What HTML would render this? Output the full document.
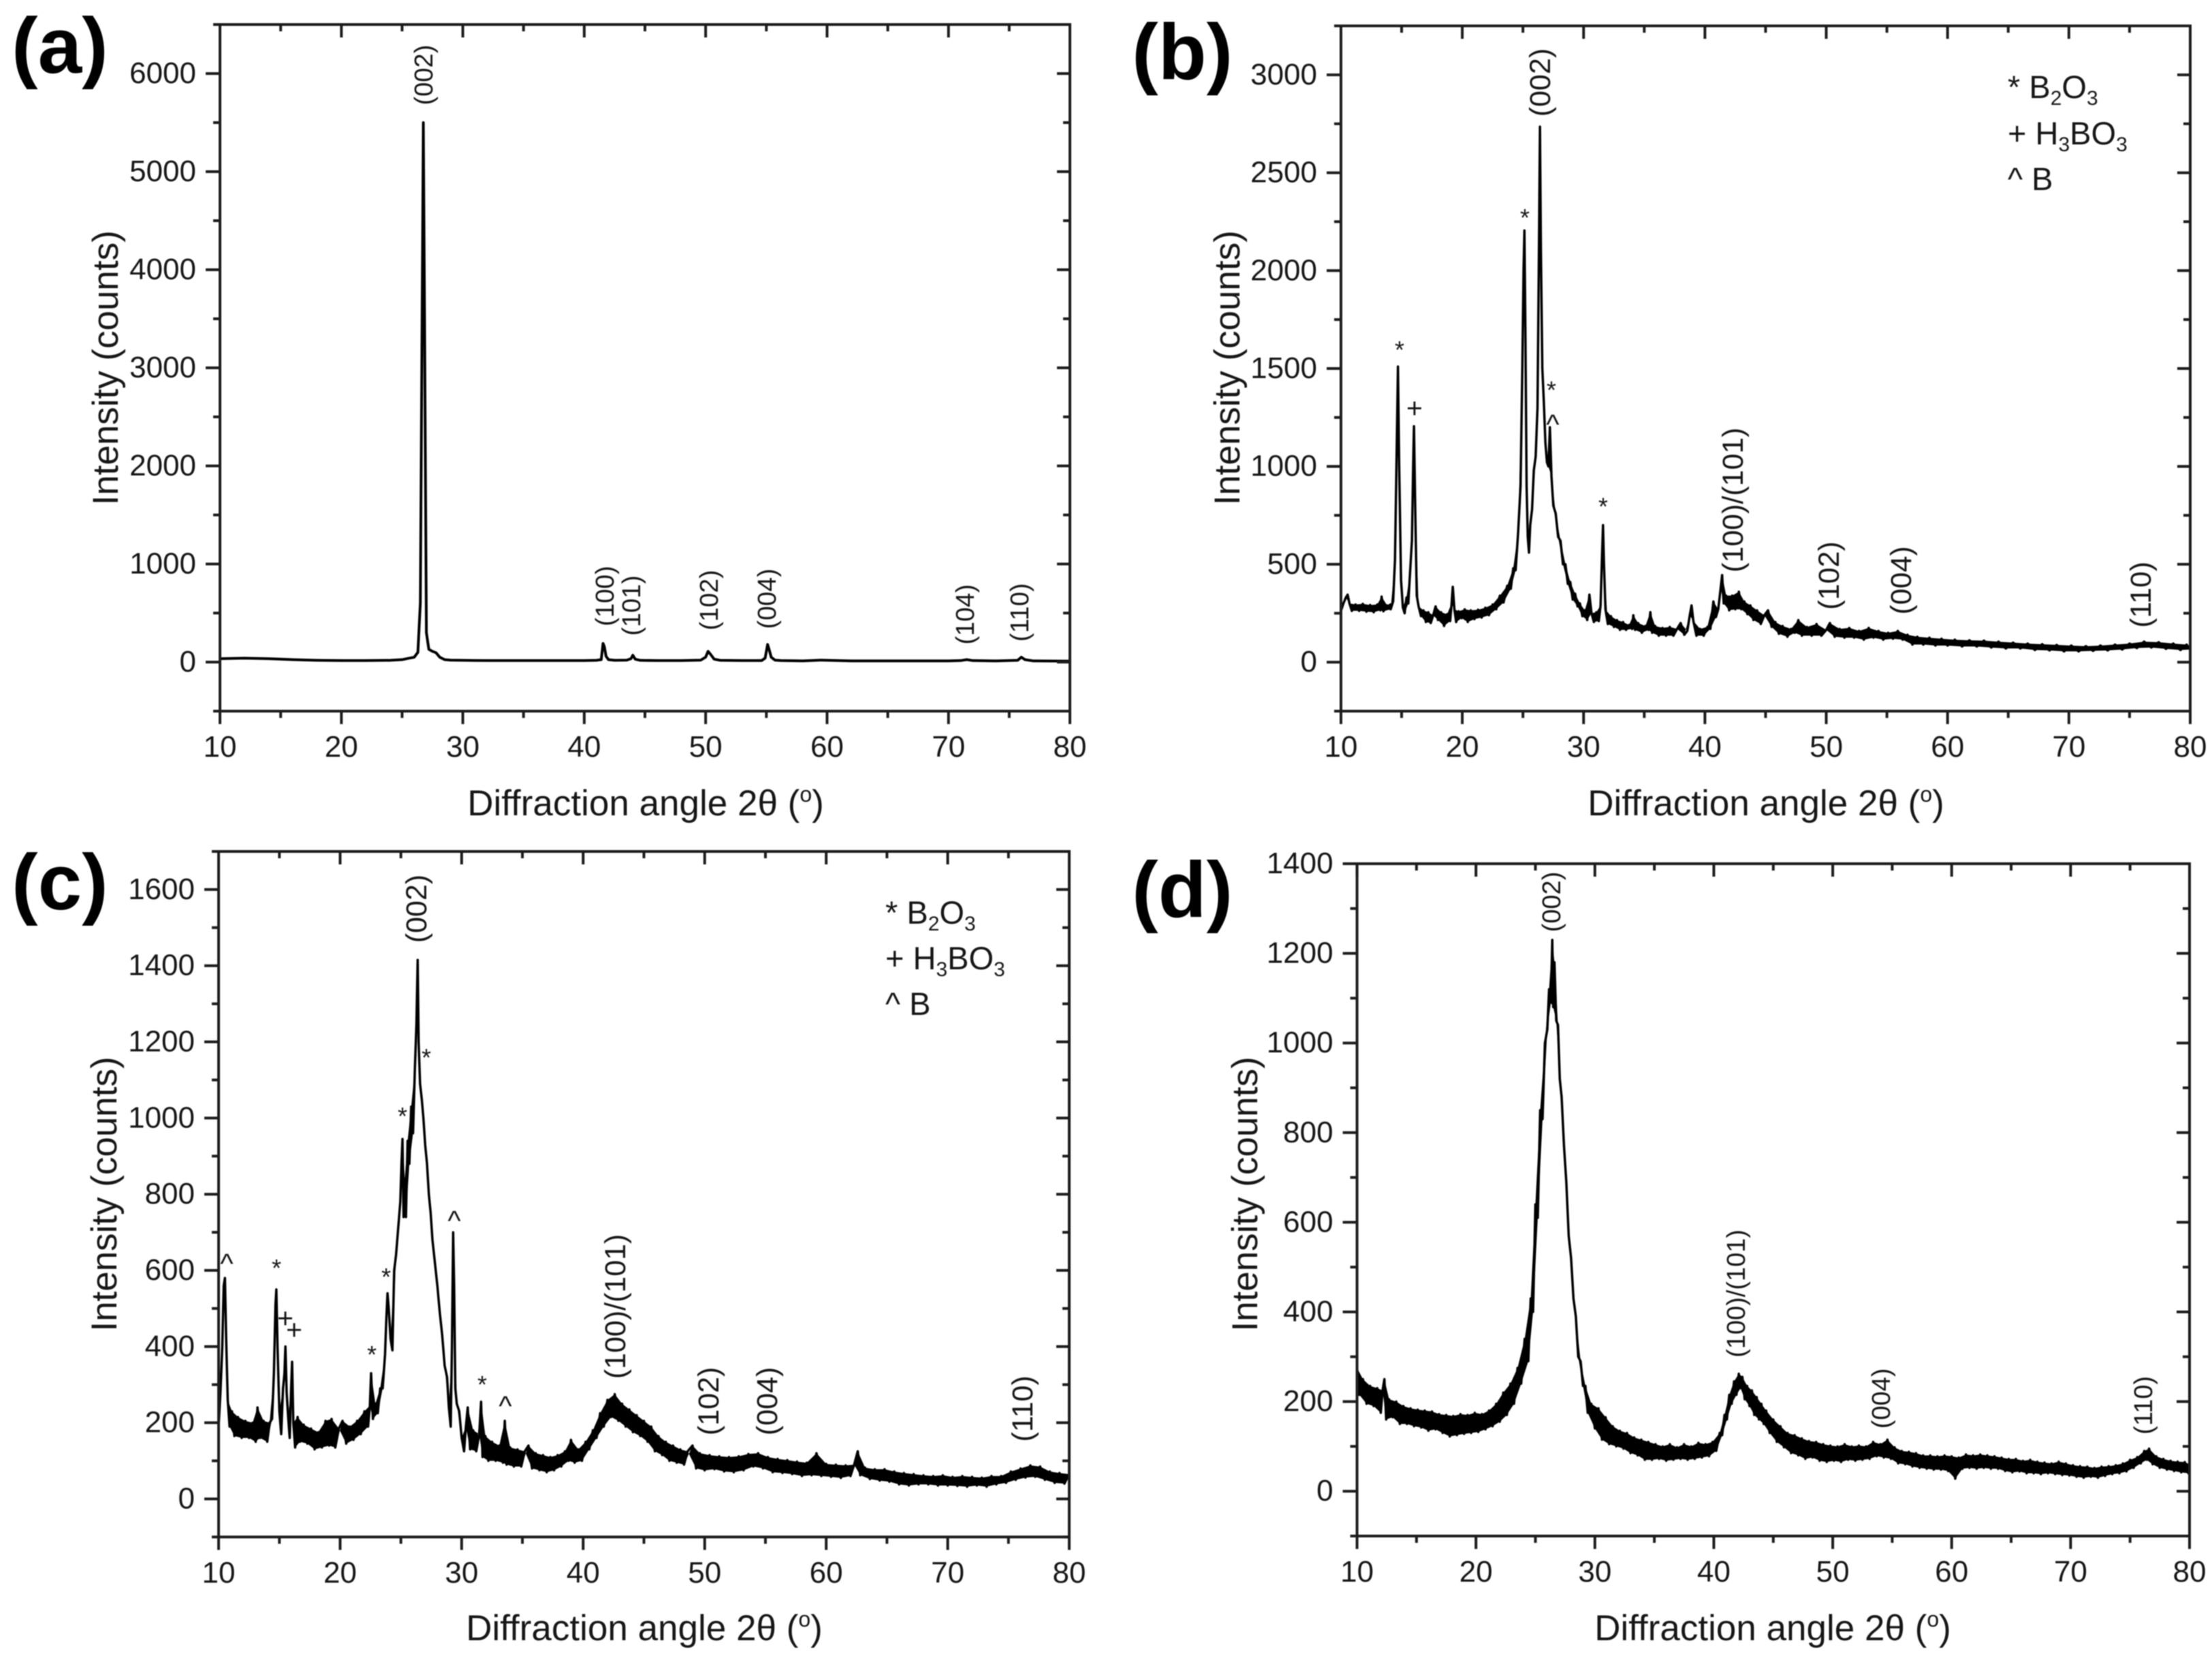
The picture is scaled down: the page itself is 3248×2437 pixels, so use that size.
<!DOCTYPE html>
<html lang="en">
<head>
<meta charset="utf-8">
<title>XRD patterns (a)-(d)</title>
<style>
html,body{margin:0;padding:0;background:#fff;}
svg{display:block;}
text{font-family:"Liberation Sans",Arial,sans-serif;fill:#161616;}
.peak{font-size:38px;}
.peak-lg{font-size:43px;}
.panel-tag{font-size:116px;font-weight:bold;fill:#000;}
.axis-title{font-size:53px;text-anchor:middle;}
.legend{font-size:47px;}
.mark{text-anchor:middle;font-size:36px;}
.mark-lg{text-anchor:middle;font-size:41px;}
</style>
</head>
<body>
<svg id="fig" xmlns="http://www.w3.org/2000/svg" width="3248" height="2437" viewBox="0 0 3248 2437">
<defs><filter id="soft" x="0" y="0" width="100%" height="100%"><feGaussianBlur stdDeviation="0.8"/></filter></defs>
<rect width="3248" height="2437" fill="#fff"/>
<g id="root" filter="url(#soft)">

<g>
<text class="panel-tag" x="17" y="107">(a)</text>
<text class="axis-title" x="948" y="1197">Diffraction angle 2θ (<tspan font-size="32" dy="-20">o</tspan><tspan dy="20">)</tspan></text>
<text class="axis-title" transform="translate(173,540) rotate(-90)">Intensity (counts)</text>
<text class="peak" text-anchor="middle" transform="translate(635,110) rotate(-90)">(002)</text>
<text class="peak" text-anchor="middle" transform="translate(901,875) rotate(-90)">(100)</text>
<text class="peak" text-anchor="middle" transform="translate(940,889) rotate(-90)">(101)</text>
<text class="peak" text-anchor="middle" transform="translate(1054,881) rotate(-90)">(102)</text>
<text class="peak" text-anchor="middle" transform="translate(1139,879) rotate(-90)">(004)</text>
<text class="peak" text-anchor="middle" transform="translate(1430,902) rotate(-90)">(104)</text>
<text class="peak" text-anchor="middle" transform="translate(1510,899) rotate(-90)">(110)</text>
</g>

<g>
<text class="panel-tag" x="1662" y="116">(b)</text>
<text class="axis-title" x="2593" y="1197">Diffraction angle 2θ (<tspan font-size="32" dy="-20">o</tspan><tspan dy="20">)</tspan></text>
<text class="axis-title" transform="translate(1820,540) rotate(-90)">Intensity (counts)</text>
<text class="peak-lg" text-anchor="middle" transform="translate(2276,121) rotate(-90)">(002)</text>
<text class="peak-lg" text-anchor="middle" transform="translate(2559,734) rotate(-90)">(100)/(101)</text>
<text class="peak-lg" text-anchor="middle" transform="translate(2700,845) rotate(-90)">(102)</text>
<text class="peak-lg" text-anchor="middle" transform="translate(2806,852) rotate(-90)">(004)</text>
<text class="peak-lg" text-anchor="middle" transform="translate(3158,873) rotate(-90)">(110)</text>
<text class="mark" x="2055" y="526">*</text>
<text class="mark-lg" x="2077" y="613">+</text>
<text class="mark" x="2239" y="332">*</text>
<text class="mark" x="2278" y="585">*</text>
<text class="mark-lg" x="2280" y="637">^</text>
<text class="mark" x="2354" y="756">*</text>
<g>
<text class="legend" x="2948" y="144">* B<tspan font-size="30" dy="10">2</tspan><tspan dy="-10">O</tspan><tspan font-size="30" dy="10">3</tspan></text>
<text class="legend" x="2948" y="212">+ H<tspan font-size="30" dy="10">3</tspan><tspan dy="-10">BO</tspan><tspan font-size="30" dy="10">3</tspan></text>
<text class="legend" x="2948" y="279">^ B</text>
</g>
</g>

<g>
<text class="panel-tag" x="17" y="1335">(c)</text>
<text class="axis-title" x="946" y="2408">Diffraction angle 2θ (<tspan font-size="32" dy="-20">o</tspan><tspan dy="20">)</tspan></text>
<text class="axis-title" transform="translate(171,1753) rotate(-90)">Intensity (counts)</text>
<text class="peak-lg" text-anchor="middle" transform="translate(626,1334) rotate(-90)">(002)</text>
<text class="peak-lg" text-anchor="middle" transform="translate(918,1918) rotate(-90)">(100)/(101)</text>
<text class="peak-lg" text-anchor="middle" transform="translate(1055,2057) rotate(-90)">(102)</text>
<text class="peak-lg" text-anchor="middle" transform="translate(1141,2057) rotate(-90)">(004)</text>
<text class="peak-lg" text-anchor="middle" transform="translate(1516,2068) rotate(-90)">(110)</text>
<text class="mark-lg" x="333" y="1869">^</text>
<text class="mark" x="406" y="1874">*</text>
<text class="mark-lg" x="419" y="1949">+</text>
<text class="mark-lg" x="432" y="1966">+</text>
<text class="mark" x="546" y="2001">*</text>
<text class="mark" x="567" y="1887">*</text>
<text class="mark" x="591" y="1651">*</text>
<text class="mark" x="626" y="1565">*</text>
<text class="mark-lg" x="667" y="1806">^</text>
<text class="mark" x="708" y="2045">*</text>
<text class="mark-lg" x="742" y="2078">^</text>
<g>
<text class="legend" x="1300" y="1356">* B<tspan font-size="30" dy="10">2</tspan><tspan dy="-10">O</tspan><tspan font-size="30" dy="10">3</tspan></text>
<text class="legend" x="1300" y="1423">+ H<tspan font-size="30" dy="10">3</tspan><tspan dy="-10">BO</tspan><tspan font-size="30" dy="10">3</tspan></text>
<text class="legend" x="1300" y="1490">^ B</text>
</g>
</g>

<g>
<text class="panel-tag" x="1662" y="1346">(d)</text>
<text class="axis-title" x="2603" y="2408">Diffraction angle 2θ (<tspan font-size="32" dy="-20">o</tspan><tspan dy="20">)</tspan></text>
<text class="axis-title" transform="translate(1846,1753) rotate(-90)">Intensity (counts)</text>
<text class="peak" text-anchor="middle" transform="translate(2291,1324) rotate(-90)">(002)</text>
<text class="peak" text-anchor="middle" transform="translate(2562,1899) rotate(-90)">(100)/(101)</text>
<text class="peak" text-anchor="middle" transform="translate(2775,2053) rotate(-90)">(004)</text>
<text class="peak" text-anchor="middle" transform="translate(3160,2063) rotate(-90)">(110)</text>
</g>
</g>
</svg>

<script>
const xMajorTicks = [10,20,30,40,50,60,70,80];
const xMinorTicks = [15,25,35,45,55,65,75];

const yMajorA = [0,1000,2000,3000,4000,5000,6000];
const yMinorA = [-500,500,1500,2500,3500,4500,5500,6500];
const yMajorB = [0,500,1000,1500,2000,2500,3000];
const yMinorB = [-250,250,750,1250,1750,2250,2750,3250];
const yMajorC = [0,200,400,600,800,1000,1200,1400,1600];
const yMinorC = [-100,100,300,500,700,900,1100,1300,1500,1700];
const yMajorD = [0,200,400,600,800,1000,1200,1400];
const yMinorD = [-100,100,300,500,700,900,1100,1300];

const anglesA = [10,12,14,16,18,20,22,24,25,25.6,
26,26.3,26.5,26.65,26.75,26.85,27,27.2,27.5,27.8,
28.1,28.5,29,30,32,35,38,40,41,41.4,
41.55,41.65,41.8,42,42.5,43.5,43.85,44,44.2,44.6,
46,48,49.6,50,50.2,50.4,50.7,51.2,53,54.6,
54.9,55.1,55.25,55.4,55.7,56.2,58,59.5,62,66,
70,71,71.5,72,74,75.7,76,76.3,77,80];
const countsA = [35,40,35,25,18,15,15,18,25,40,
50,100,600,3500,5500,3500,300,130,110,95,
50,25,20,18,15,15,15,15,18,25,
190,160,60,25,18,20,35,70,30,18,
15,15,20,50,110,80,30,18,15,15,
40,180,120,50,20,15,12,20,12,12,
12,15,25,15,12,18,50,25,12,10];

const anglesB = [10,10.2,10.4,10.55,10.7,10.9,11.2,11.5,11.8,12.1,
12.4,12.7,13,13.25,13.35,13.5,13.8,14.1,14.3,14.45,
14.6,14.7,14.8,14.95,15.1,15.25,15.4,15.55,15.7,15.85,
15.95,16.02,16.12,16.25,16.4,16.6,16.8,17,17.2,17.4,
17.6,17.8,18,18.25,18.5,18.75,19,19.12,19.22,19.35,
19.5,19.7,19.95,20.2,20.45,20.7,21,21.3,21.6,21.9,
22.2,22.5,22.8,23.1,23.4,23.7,24,24.2,24.4,24.6,
24.8,24.95,25.05,25.12,25.2,25.3,25.4,25.5,25.6,25.75,
25.9,26.05,26.2,26.32,26.4,26.48,26.6,26.72,26.85,26.98,
27.1,27.22,27.35,27.5,27.7,27.9,28.1,28.3,28.5,28.7,
28.9,29.1,29.3,29.5,29.7,29.9,30.1,30.3,30.48,30.65,
30.85,31.05,31.25,31.4,31.52,31.6,31.68,31.8,32,32.25,
32.5,32.75,33,33.25,33.5,33.75,34,34.1,34.25,34.5,
34.8,35.1,35.35,35.5,35.65,35.9,36.2,36.5,36.8,37.1,
37.4,37.7,38,38.3,38.55,38.75,38.9,39.05,39.3,39.6,
39.9,40.2,40.45,40.7,40.9,41.1,41.3,41.42,41.55,41.75,
42,42.25,42.5,42.8,43,43.25,43.5,43.75,44,44.3,
44.6,44.9,45.2,45.5,45.8,46.1,46.4,46.8,47.1,47.4,
47.7,48,48.4,48.8,49.2,49.6,50,50.3,50.7,51.1,
51.5,51.9,52.3,52.7,53.1,53.5,53.9,54.3,54.7,55.1,
55.5,55.9,56.3,56.7,57.1,57.5,58,58.5,59,59.5,
60,60.6,61.2,61.8,62.4,63,63.6,64.2,64.8,65.4,
66,66.6,67.2,67.8,68.4,69,69.6,70.2,70.8,71.4,
72,72.6,73.2,73.8,74.4,75,75.6,76.2,76.8,77.4,
78,78.6,79.2,79.7,80];
const countsB = [262,300,330,345,300,262,295,262,298,258,
292,255,295,265,335,260,290,270,310,520,
1100,1510,1000,420,280,250,330,300,460,620,
1000,1205,800,340,285,235,265,205,255,200,
240,285,215,255,185,245,210,300,385,270,
205,260,225,270,205,265,220,268,228,278,
240,295,270,340,305,390,375,480,470,660,
900,1500,2000,2205,1700,900,640,560,700,780,
980,1050,1300,2100,2735,2100,1500,1330,1120,1020,
1000,1200,950,800,760,640,620,500,500,400,
410,320,350,285,300,235,265,215,345,250,
205,255,210,290,550,700,500,270,195,235,
180,215,165,205,165,190,170,240,165,200,
150,185,165,255,150,185,135,175,135,180,
135,170,200,140,160,240,290,210,135,170,
135,180,170,310,230,270,380,445,300,340,
265,340,270,360,270,310,245,290,215,265,
195,240,265,180,205,145,185,130,170,150,
215,135,180,135,195,135,165,200,130,170,
125,175,125,160,115,175,125,160,115,150,
120,160,115,140,90,130,90,125,85,120,
85,115,80,112,80,110,75,105,70,100,
70,95,62,92,60,88,55,85,55,82,
58,85,60,90,65,95,72,105,75,102,
68,95,62,90,65];

const anglesC = [10,10.15,10.3,10.42,10.52,10.62,10.75,10.9,11.1,11.3,
11.6,11.9,12.2,12.5,12.8,13.05,13.2,13.4,13.7,14,
14.2,14.4,14.55,14.68,14.75,14.85,15,15.15,15.3,15.42,
15.5,15.6,15.72,15.85,15.97,16.05,16.15,16.3,16.5,16.7,
17,17.3,17.6,17.9,18.2,18.5,18.8,19.1,19.3,19.6,
19.9,20.2,20.5,20.8,21.1,21.4,21.7,22,22.3,22.45,
22.55,22.7,22.9,23.1,23.3,23.5,23.7,23.8,23.9,24,
24.15,24.3,24.45,24.6,24.8,24.95,25.05,25.13,25.22,25.32,
25.42,25.55,25.7,25.85,26,26.15,26.28,26.38,26.46,26.58,
26.72,26.85,27,27.15,27.3,27.45,27.6,27.8,28,28.2,
28.4,28.6,28.8,28.95,29.1,29.2,29.3,29.38,29.48,29.6,
29.8,30,30.2,30.35,30.5,30.7,30.95,31.2,31.45,31.6,
31.72,31.95,32.2,32.5,32.8,33.1,33.4,33.55,33.7,34,
34.3,34.6,34.9,35.2,35.5,35.8,36.1,36.4,36.7,37,
37.3,37.6,37.9,38.2,38.5,38.8,39,39.3,39.6,39.9,
40.2,40.5,40.8,41.1,41.4,41.7,42,42.3,42.6,42.9,
43.2,43.5,43.8,44.1,44.4,44.7,45,45.3,45.6,45.9,
46.2,46.5,46.8,47.1,47.4,47.7,48,48.3,48.6,49,
49.3,49.6,50,50.4,50.8,51.2,51.6,52,52.4,52.8,
53.2,53.6,54,54.4,54.8,55.2,55.6,56,56.4,56.8,
57.2,57.6,58,58.4,58.8,59.2,59.6,60,60.4,60.8,
61.2,61.6,62,62.3,62.6,62.8,63.2,63.6,64,64.4,
64.8,65.2,65.6,66,66.4,66.8,67.2,67.6,68,68.4,
68.8,69.2,69.6,70,70.4,70.8,71.2,71.6,72,72.4,
72.8,73.2,73.6,74,74.4,74.8,75.2,75.6,76,76.4,
76.8,77.2,77.6,78,78.4,78.8,79.2,79.6,80];
const countsC = [190,280,400,560,580,420,260,190,230,165,
215,160,205,160,200,150,240,160,205,150,
200,210,330,510,550,400,230,170,290,330,
400,280,215,160,290,360,200,135,215,150,
195,145,185,130,175,135,205,140,210,135,
185,205,145,190,155,205,170,230,190,245,
330,210,250,225,290,290,380,470,540,500,
420,390,600,640,720,780,880,945,740,840,
740,940,880,1030,960,1130,1250,1415,1200,1090,
1050,1000,930,880,800,750,680,620,560,490,
430,350,320,240,190,400,700,560,290,250,
230,160,125,190,240,130,180,125,170,255,
110,165,100,150,100,140,95,205,90,135,
85,130,85,125,140,80,120,75,115,70,
110,75,115,85,125,100,155,95,130,100,
150,130,180,160,225,190,260,215,275,205,
250,190,235,175,220,165,205,150,190,125,
165,115,150,100,140,95,130,90,125,140,
80,120,75,115,78,112,72,110,70,112,
75,118,85,120,80,110,70,105,68,102,
65,98,60,95,62,120,60,92,58,90,
55,88,60,90,125,62,82,52,78,48,
78,45,72,38,68,35,65,38,62,38,
60,35,62,35,58,34,60,32,58,35,
56,32,60,38,60,42,72,50,80,56,
88,58,85,50,72,42,68,40,65];

const anglesD = [10,10.2,10.5,10.8,11.1,11.4,11.7,12,12.15,12.3,
12.45,12.7,13,13.3,13.6,13.9,14.2,14.5,14.8,15.1,
15.4,15.7,16,16.3,16.6,16.9,17.2,17.5,17.8,18.1,
18.4,18.7,19,19.3,19.6,19.9,20.2,20.5,20.8,21.1,
21.4,21.7,22,22.3,22.6,22.9,23.2,23.5,23.8,24.1,
24.4,24.6,24.8,25,25.2,25.4,25.6,25.8,26,26.15,
26.3,26.42,26.5,26.6,26.75,26.9,27.05,27.2,27.4,27.6,
27.8,28,28.2,28.4,28.6,28.8,29,29.2,29.4,29.7,
30,30.3,30.6,30.9,31.2,31.5,31.8,32.1,32.4,32.7,
33,33.3,33.6,33.9,34.2,34.5,34.8,35.1,35.4,35.7,
36,36.3,36.6,36.9,37.2,37.5,37.8,38.1,38.4,38.7,
39,39.3,39.6,39.9,40.2,40.5,40.7,40.9,41.1,41.3,
41.5,41.7,41.9,42.1,42.25,42.4,42.6,42.8,43,43.2,
43.4,43.6,43.8,44,44.2,44.4,44.7,45,45.3,45.6,
45.9,46.2,46.5,46.8,47.1,47.4,47.7,48,48.3,48.6,
48.9,49.2,49.5,49.8,50.1,50.4,50.7,51,51.3,51.6,
51.9,52.2,52.5,52.8,53.1,53.4,53.7,54,54.3,54.6,
54.9,55.2,55.5,55.8,56.1,56.4,56.7,57,57.3,57.6,
57.9,58.2,58.5,58.8,59.1,59.4,59.7,60,60.3,60.6,
60.9,61.2,61.5,61.8,62.1,62.4,62.7,63,63.3,63.6,
63.9,64.2,64.5,64.8,65.1,65.4,65.7,66,66.3,66.6,
66.9,67.2,67.5,67.8,68.1,68.4,68.7,69,69.3,69.6,
69.9,70.2,70.5,70.8,71.1,71.4,71.7,72,72.3,72.6,
72.9,73.2,73.5,73.8,74.1,74.4,74.7,75,75.3,75.6,
75.9,76.2,76.4,76.6,76.9,77.2,77.5,77.8,78.1,78.4,
78.7,79,79.3,79.6,79.9,80];
const countsD = [275,215,250,195,235,190,230,175,225,250,
160,205,165,200,150,190,150,185,145,182,
142,180,135,178,138,172,130,170,122,168,
125,172,128,170,130,175,132,172,138,180,
145,195,155,220,170,240,195,275,240,340,
290,430,400,640,610,850,830,1000,1030,1120,
1090,1230,1080,1180,1050,1040,920,880,770,690,
570,520,430,390,300,290,235,235,175,195,
140,185,115,165,105,145,100,135,95,130,
85,120,80,115,70,110,70,105,72,100,
68,105,70,98,72,105,70,100,72,108,
75,105,78,110,90,130,125,170,160,215,
195,245,215,262,230,255,205,235,190,225,
170,210,160,195,150,180,130,160,110,145,
98,130,85,125,80,118,72,112,75,110,
68,105,65,102,68,100,65,105,70,100,
68,102,70,100,72,110,78,105,75,115,
72,98,62,90,60,88,55,85,52,80,
50,80,48,78,48,80,45,78,28,75,
50,82,52,80,50,82,52,80,50,78,
50,75,45,72,42,72,44,68,40,70,
40,66,38,64,40,62,38,66,36,62,
35,58,32,56,30,55,32,52,30,55,
34,56,38,58,40,62,44,70,52,76,
62,90,70,95,60,78,52,72,48,68,
45,66,42,65,40,60];

const SVGNS = 'http://www.w3.org/2000/svg';
const rootGroup = document.getElementById('root');

function make(parent, tag, attrs, text) {
  const node = document.createElementNS(SVGNS, tag);
  for (const k in attrs) node.setAttribute(k, attrs[k]);
  if (text !== undefined) node.textContent = text;
  parent.appendChild(node);
  return node;
}

function drawPanel(id, box, yDomain, yMajor, yMinor, angles, counts, width, noisy) {
  const xScale = v => box.left + (v - 10) / 70 * (box.right - box.left);
  const yScale = v => box.bottom - (v - yDomain[0]) / (yDomain[1] - yDomain[0]) * (box.bottom - box.top);
  const g = make(rootGroup, 'g', {});
  
  

  const pts = angles.map((a, i) => xScale(a).toFixed(1) + ',' + yScale(counts[i]).toFixed(1));

  if (noisy) {
    /* the measured scatter: readings alternate high / low, so fill between the two chains */
    const evenChain = pts.filter((p, i) => i % 2 === 0);
    const oddChain = pts.filter((p, i) => i % 2 === 1).reverse();
    const band = make(g, 'polygon', {points: evenChain.concat(oddChain).join(' '), fill: '#000', stroke: 'none'});
    
    
  }

  const line = make(g, 'polyline', {points: pts.join(' '), fill: 'none', stroke: '#000', 'stroke-width': width, 'stroke-linejoin': 'round'});
  
  

  const frame = make(g, 'rect', {x: box.left, y: box.top, width: box.right - box.left, height: box.bottom - box.top, fill: 'none', stroke: '#1c1c1c', 'stroke-width': 4});
  
  

  const tick = (x1, y1, x2, y2, name) => {
    const t = make(g, 'line', {x1: x1, y1: y1, x2: x2, y2: y2, stroke: '#1c1c1c', 'stroke-width': 4});
    
    
  };

  xMajorTicks.forEach(v => {
    const x = xScale(v);
    tick(x, box.bottom, x, box.bottom + 19, 'x-major-tick');
    tick(x, box.top, x, box.top + 19, 'x-top-major-tick');
    const label = make(g, 'text', {x: x, y: box.bottom + 67, 'text-anchor': 'middle', 'font-size': 44}, String(v));
    
    
  });
  xMinorTicks.forEach(v => {
    const x = xScale(v);
    tick(x, box.bottom, x, box.bottom + 10, 'x-minor-tick');
    tick(x, box.top, x, box.top + 10, 'x-top-minor-tick');
  });
  yMajor.forEach(v => {
    const y = yScale(v);
    tick(box.left - 21, y, box.left, y, 'y-major-tick');
    tick(box.right - 19, y, box.right, y, 'y-right-major-tick');
    const label = make(g, 'text', {x: box.left - 35, y: y + 14, 'text-anchor': 'end', 'font-size': 44}, String(v));
    
    
  });
  yMinor.forEach(v => {
    const y = yScale(v);
    tick(box.left - 10, y, box.left, y, 'y-minor-tick');
    tick(box.right - 10, y, box.right, y, 'y-right-minor-tick');
  });
}

drawPanel('a', {left: 323, right: 1571, top: 36, bottom: 1044}, [-500, 6500], yMajorA, yMinorA, anglesA, countsA, 4, false);
drawPanel('b', {left: 1969, right: 3216, top: 38, bottom: 1044}, [-250, 3250], yMajorB, yMinorB, anglesB, countsB, 3.5, true);
drawPanel('c', {left: 321, right: 1570, top: 1250, bottom: 2256.4}, [-100, 1700], yMajorC, yMinorC, anglesC, countsC, 3.5, true);
drawPanel('d', {left: 1992.6, right: 3215, top: 1268, bottom: 2255}, [-100, 1400], yMajorD, yMinorD, anglesD, countsD, 3.5, true);
</script>
</body>
</html>
